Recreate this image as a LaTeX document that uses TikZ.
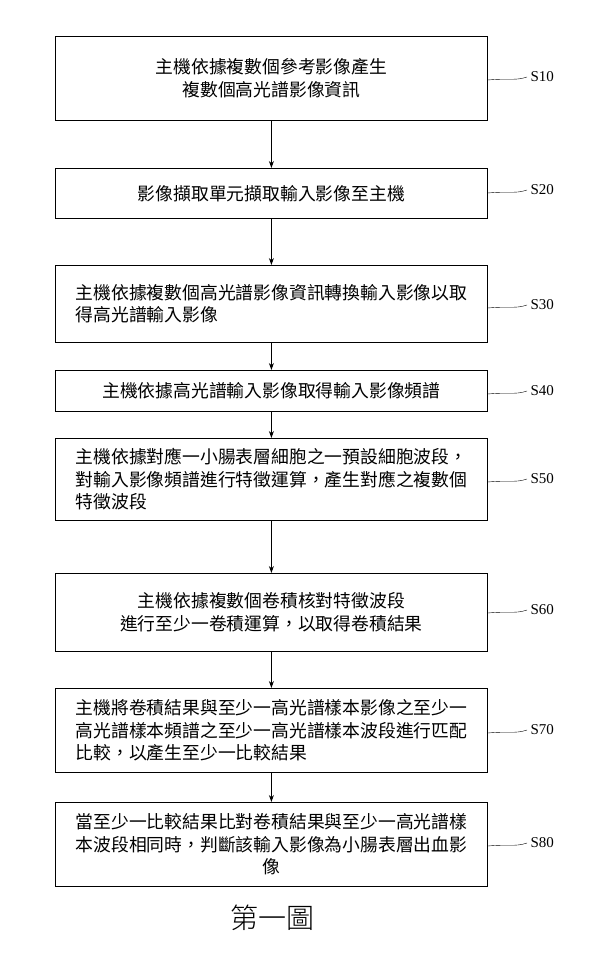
\documentclass[tikz,border=0pt]{standalone}
\usepackage{fontspec}
\setmainfont{Liberation Serif}
\newfontfamily\cjk{Noto Sans CJK TC}
\newfontfamily\cjkl{Noto Sans CJK TC Light}
\usetikzlibrary{arrows.meta}
\begin{document}
\begin{tikzpicture}[x=1pt,y=-1pt,
 box/.style={draw,thick,minimum width=432pt,anchor=north west,inner sep=3pt,font=\cjk\fontsize{17.8}{22.5}\selectfont},
 lab/.style={font=\fontsize{15}{18}\selectfont,anchor=west},
 arr/.style={-{Stealth[length=7pt,width=5pt]},thick}]
\useasboundingbox (0,0) rectangle (600,955);
\node[box,minimum height=84pt,align=center] (b1) at (55,36) {主機依據複數個參考影像產生\\複數個高光譜影像資訊};
\node[box,minimum height=50pt] (b2) at (55,168) {影像擷取單元擷取輸入影像至主機};
\node[box,minimum height=77pt,align=left] (b3) at (55,265) {主機依據複數個高光譜影像資訊轉換輸入影像以取\\得高光譜輸入影像};
\node[box,minimum height=41pt] (b4) at (55,370) {主機依據高光譜輸入影像取得輸入影像頻譜};
\node[box,minimum height=82pt,align=left] (b5) at (55,438) {主機依據對應一小腸表層細胞之一預設細胞波段，\\對輸入影像頻譜進行特徵運算，產生對應之複數個\\特徵波段};
\node[box,minimum height=78pt,align=center] (b6) at (55,573) {主機依據複數個卷積核對特徵波段\\進行至少一卷積運算，以取得卷積結果};
\node[box,minimum height=84pt,align=left] (b7) at (55,688) {主機將卷積結果與至少一高光譜樣本影像之至少一\\高光譜樣本頻譜之至少一高光譜樣本波段進行匹配\\比較，以產生至少一比較結果};
\node[box,minimum height=84pt,align=center] (b8) at (55,802) {當至少一比較結果比對卷積結果與至少一高光譜樣\\本波段相同時，判斷該輸入影像為小腸表層出血影\\像};
\foreach \a/\b in {b1/b2,b2/b3,b3/b4,b4/b5,b5/b6,b6/b7,b7/b8} \draw[arr] (\a.south) -- (\b.north);
\foreach \n/\t/\y in {b1/S10/77,b2/S20/190,b3/S30/305,b4/S40/391,b5/S50/479,b6/S60/610,b7/S70/730,b8/S80/843}{
 \node[lab] (l\n) at (527,\y) {\t};
 \draw (\n.east|-0,\y+3) .. controls (510,\y+1) and (515,\y+4) .. (l\n.west);
}
\node[font=\cjkl\fontsize{28}{32}\selectfont] (cap) at (272,918) {第一圖};
\end{tikzpicture}
\end{document}
